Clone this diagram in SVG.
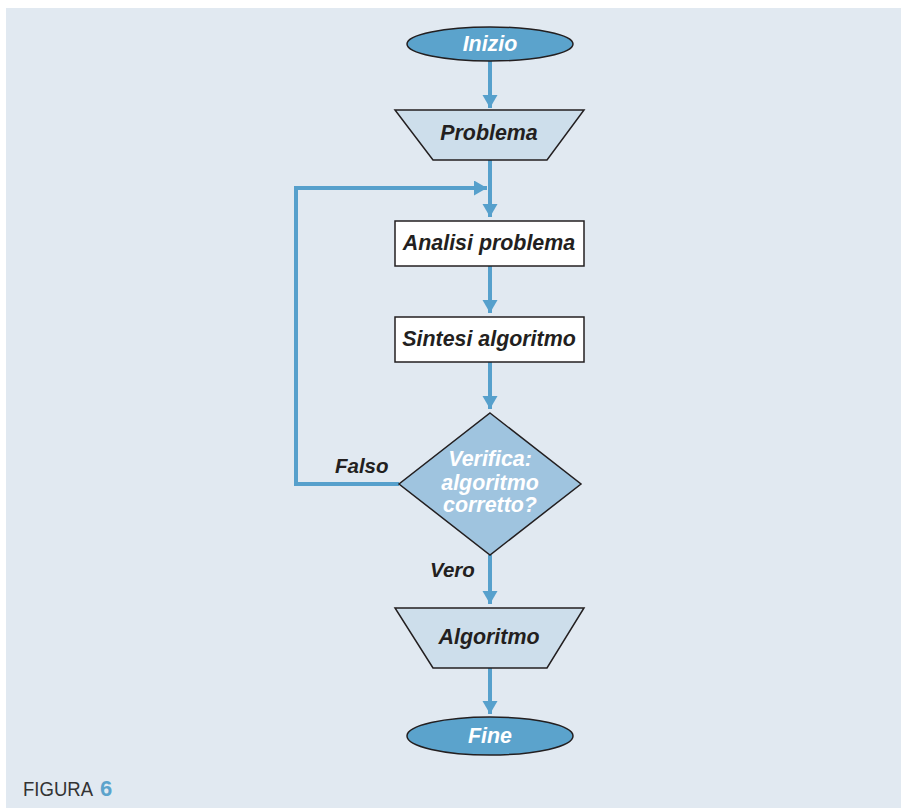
<svg xmlns="http://www.w3.org/2000/svg" width="901" height="808" viewBox="0 0 901 808">
  <style>
    .flow { fill: none; stroke: #56a0cc; stroke-width: 4; }
    .term { fill: #5ba3cc; stroke: #231f20; stroke-width: 1.5; }
    .io { fill: #cddeeb; stroke: #231f20; stroke-width: 1.5; }
    .proc { fill: #ffffff; stroke: #231f20; stroke-width: 1.5; }
    .dec { fill: #9fc4df; stroke: #231f20; stroke-width: 1.5; }
    .lbl { font-family: "Liberation Sans", Arial, sans-serif; font-weight: bold; font-style: italic; font-size: 21.4px; text-anchor: middle; fill: #231f20; }
    .lbl.inv { fill: #ffffff; }
    .edge { font-family: "Liberation Sans", Arial, sans-serif; font-weight: bold; font-style: italic; font-size: 20.5px; fill: #231f20; }
  </style>
  <defs>
    <marker id="arrow" markerUnits="userSpaceOnUse" markerWidth="16" markerHeight="16" refX="13" refY="7.5" orient="auto">
      <path d="M0,0 L13,7.5 L0,15 Z" fill="#56a0cc"/>
    </marker>
  </defs>

  <!-- background panel -->
  <rect x="6" y="8" width="895" height="800" fill="#e1e9f1"/>

  <!-- connectors -->
  <g id="connectors">
    <line class="flow" x1="490" y1="61" x2="490" y2="108" marker-end="url(#arrow)"/>
    <line class="flow" x1="490" y1="160" x2="490" y2="217" marker-end="url(#arrow)"/>
    <line class="flow" x1="490" y1="266" x2="490" y2="313" marker-end="url(#arrow)"/>
    <line class="flow" x1="490" y1="362" x2="490" y2="409" marker-end="url(#arrow)"/>
    <polyline class="flow" points="399,484 296,484 296,188 487,188" marker-end="url(#arrow)"/>
    <line class="flow" x1="490" y1="555" x2="490" y2="604" marker-end="url(#arrow)"/>
    <line class="flow" x1="490" y1="668" x2="490" y2="714" marker-end="url(#arrow)"/>
    <text class="edge" x="335" y="473">Falso</text>
    <text class="edge" x="430" y="577">Vero</text>
  </g>

  <g id="inizio">
    <ellipse class="term" cx="490" cy="44" rx="83" ry="17"/>
    <text class="lbl inv" x="490" y="51">Inizio</text>
  </g>

  <g id="problema">
    <polygon class="io" points="395,110 584,110 547,160 433,160"/>
    <text class="lbl" x="489" y="140">Problema</text>
  </g>

  <g id="analisi">
    <rect class="proc" x="395" y="221" width="189" height="45"/>
    <text class="lbl" x="489" y="250">Analisi problema</text>
  </g>

  <g id="sintesi">
    <rect class="proc" x="395" y="317" width="189" height="45"/>
    <text class="lbl" x="489" y="346">Sintesi algoritmo</text>
  </g>

  <g id="verifica">
    <polygon class="dec" points="490,413 581,484 490,555 399,484"/>
    <text class="lbl inv" x="490" y="466">Verifica:</text>
    <text class="lbl inv" x="490" y="490">algoritmo</text>
    <text class="lbl inv" x="490" y="512">corretto?</text>
  </g>

  <g id="algoritmo">
    <polygon class="io" points="395,608 584,608 547,668 433,668"/>
    <text class="lbl" x="489" y="644">Algoritmo</text>
  </g>

  <g id="fine">
    <ellipse class="term" cx="490" cy="736" rx="83" ry="19"/>
    <text class="lbl inv" x="490" y="743">Fine</text>
  </g>

  <!-- caption -->
  <text x="23" y="796" font-family="Liberation Sans, Arial, sans-serif" font-size="20.5" fill="#333333" textLength="70" lengthAdjust="spacingAndGlyphs">FIGURA</text>
  <text x="100" y="796" font-family="Liberation Sans, Arial, sans-serif" font-size="22" font-weight="bold" fill="#5ba3cc">6</text>
</svg>
